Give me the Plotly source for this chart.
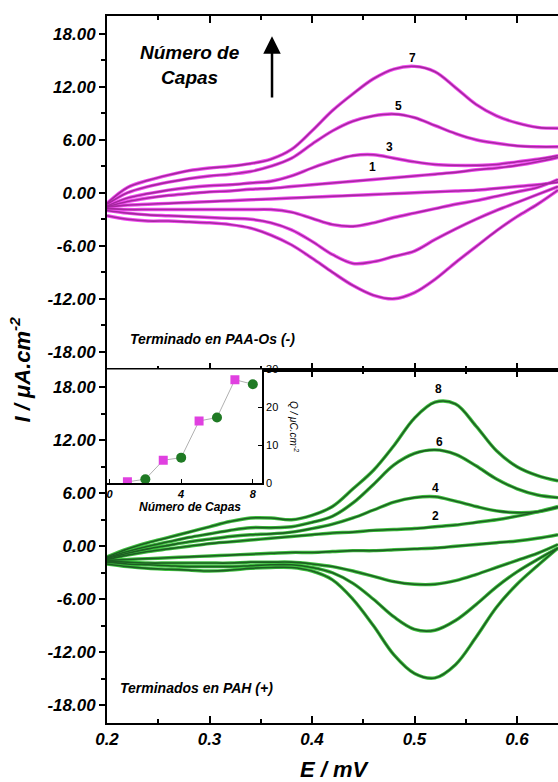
import plotly.graph_objects as go

# Potential grid (V) at which each voltammogram branch is sampled
E = [0.20, 0.22, 0.24, 0.26, 0.28, 0.30, 0.32, 0.34, 0.36, 0.38, 0.40, 0.42,
     0.44, 0.46, 0.48, 0.50, 0.52, 0.54, 0.56, 0.58, 0.60, 0.62, 0.64]

# Films terminated in PAA-Os (odd layer counts), current density in uA/cm2
paa_1_anodic = [-1.6, -1.0, -0.6, -0.3, -0.1, 0.1, 0.2, 0.4, 0.5, 0.7, 0.9, 1.1,
                1.3, 1.5, 1.7, 1.9, 2.1, 2.3, 2.6, 2.8, 3.1, 3.5, 4.0]
paa_1_cathodic = [-1.6, -1.4, -1.3, -1.2, -1.1, -1.0, -0.9, -0.8, -0.7, -0.6, -0.5, -0.4,
                  -0.3, -0.2, -0.1, 0.0, 0.1, 0.2, 0.3, 0.5, 0.7, 0.9, 1.2]
paa_3_anodic = [-1.5, -0.6, -0.1, 0.3, 0.6, 0.8, 0.9, 1.1, 1.3, 1.9, 2.8, 3.6,
                4.2, 4.3, 3.9, 3.5, 3.2, 3.1, 3.1, 3.2, 3.5, 3.8, 4.2]
paa_3_cathodic = [-1.8, -1.9, -1.9, -1.9, -1.9, -1.9, -1.9, -1.9, -1.9, -2.2, -2.9, -3.6,
                  -3.8, -3.4, -2.8, -2.3, -1.8, -1.3, -0.9, -0.4, 0.1, 0.6, 1.5]
paa_5_anodic = [-1.3, 0.0, 0.7, 1.2, 1.6, 1.9, 2.1, 2.4, 3.0, 3.9, 5.5, 7.0,
                8.1, 8.7, 8.9, 8.5, 7.6, 6.7, 6.0, 5.6, 5.3, 5.2, 5.2]
paa_5_cathodic = [-2.0, -2.3, -2.5, -2.6, -2.7, -2.8, -2.9, -3.0, -3.4, -4.2, -5.5, -7.0,
                  -8.0, -7.8, -7.2, -6.6, -5.3, -4.1, -3.0, -2.0, -1.1, -0.2, 0.7]
paa_7_anodic = [-1.2, 0.6, 1.4, 2.0, 2.5, 2.8, 3.0, 3.3, 3.8, 4.9, 7.0, 9.3,
                11.2, 12.9, 14.0, 14.3, 13.7, 11.9, 10.0, 8.7, 7.9, 7.4, 7.3]
paa_7_cathodic = [-2.6, -3.0, -3.2, -3.2, -3.3, -3.4, -3.6, -4.0, -4.8, -5.9, -7.4, -9.0,
                  -10.5, -11.6, -12.0, -11.3, -9.8, -7.9, -6.1, -4.3, -2.7, -1.3, 0.3]

# Films terminated in PAH (even layer counts)
pah_2_anodic = [-1.5, -1.0, -0.6, -0.3, 0.0, 0.3, 0.5, 0.7, 0.9, 1.1, 1.3, 1.5,
                1.6, 1.8, 1.9, 2.0, 2.2, 2.4, 2.7, 3.0, 3.4, 3.9, 4.5]
pah_2_cathodic = [-1.6, -1.5, -1.4, -1.3, -1.2, -1.1, -1.0, -0.9, -0.8, -0.7, -0.7, -0.6,
                  -0.5, -0.5, -0.4, -0.3, -0.2, 0.0, 0.2, 0.4, 0.6, 0.9, 1.3]
pah_4_anodic = [-1.4, -0.8, -0.3, 0.1, 0.5, 0.8, 1.1, 1.3, 1.4, 1.6, 2.0, 2.5,
                3.2, 4.1, 5.0, 5.5, 5.6, 5.1, 4.5, 4.0, 3.8, 3.9, 4.4]
pah_4_cathodic = [-1.7, -1.8, -1.9, -1.9, -1.9, -1.9, -1.9, -1.8, -1.8, -1.8, -2.0, -2.3,
                  -2.8, -3.4, -4.0, -4.3, -4.3, -3.9, -3.2, -2.4, -1.6, -0.8, 0.2]
pah_6_anodic = [-1.3, -0.6, 0.0, 0.5, 1.0, 1.4, 1.8, 2.1, 2.1, 2.2, 2.7, 3.4,
                4.9, 7.0, 9.2, 10.5, 10.9, 10.4, 9.1, 7.6, 6.5, 5.8, 5.5]
pah_6_cathodic = [-1.8, -2.0, -2.1, -2.2, -2.3, -2.3, -2.3, -2.2, -2.1, -2.1, -2.4, -3.0,
                  -4.2, -6.0, -8.0, -9.4, -9.5, -8.4, -6.6, -4.6, -2.9, -1.5, -0.2]
pah_8_anodic = [-1.2, -0.3, 0.4, 1.0, 1.6, 2.2, 2.8, 3.2, 3.2, 3.0, 3.5, 4.5,
                6.5, 8.6, 11.4, 14.5, 16.3, 16.1, 13.6, 10.8, 9.0, 8.0, 7.4]
pah_8_cathodic = [-2.0, -2.3, -2.5, -2.6, -2.7, -2.8, -2.7, -2.5, -2.4, -2.4, -2.8, -3.8,
                  -6.0, -9.0, -12.3, -14.4, -14.9, -13.4, -10.3, -6.9, -4.3, -2.2, -0.2]

# Inset: charge under the peaks versus number of layers
layers = [1, 2, 3, 4, 5, 6, 7, 8]
charge = [0.3, 1.0, 6.0, 6.7, 16.4, 17.3, 27.3, 26.1]

# Axis ticks
x_tickvals = [0.2, 0.3, 0.4, 0.5, 0.6]
x_ticktext = ["0.2", "0.3", "0.4", "0.5", "0.6"]
y_tickvals = [-18, -12, -6, 0, 6, 12, 18]
y_ticktext = ["-18.00", "-12.00", "-6.00", "0.00", "6.00", "12.00", "18.00"]

MAGENTA_HALO, MAGENTA_CORE = "#f04cf0", "#a5289f"
GREEN_HALO, GREEN_CORE = "#3fbf3f", "#1d5f22"
FONT = "Liberation Sans, Arial, sans-serif"

fig = go.Figure()


def add_cv(branches, halo, core, xa, ya):
    for y in branches:
        fig.add_trace(go.Scatter(x=E, y=y, mode="lines", xaxis=xa, yaxis=ya,
                                 line=dict(color=halo, width=3.4, shape="spline", smoothing=1.0),
                                 hoverinfo="skip", showlegend=False))
    for y in branches:
        fig.add_trace(go.Scatter(x=E, y=y, mode="lines", xaxis=xa, yaxis=ya,
                                 line=dict(color=core, width=1.6, shape="spline", smoothing=1.0),
                                 showlegend=False))


add_cv([paa_1_anodic, paa_1_cathodic, paa_3_anodic, paa_3_cathodic,
        paa_5_anodic, paa_5_cathodic, paa_7_anodic, paa_7_cathodic],
       MAGENTA_HALO, MAGENTA_CORE, "x", "y")
add_cv([pah_2_anodic, pah_2_cathodic, pah_4_anodic, pah_4_cathodic,
        pah_6_anodic, pah_6_cathodic, pah_8_anodic, pah_8_cathodic],
       GREEN_HALO, GREEN_CORE, "x2", "y2")

# Inset trace: connecting line, then odd (PAA-Os) and even (PAH) markers
fig.add_trace(go.Scatter(x=layers, y=charge, mode="lines", xaxis="x3", yaxis="y3",
                         line=dict(color="#b0b0b0", width=1), showlegend=False))
fig.add_trace(go.Scatter(x=layers[0::2], y=charge[0::2], mode="markers", xaxis="x3", yaxis="y3",
                         marker=dict(symbol="square", size=9, color="#e040e0"), showlegend=False))
fig.add_trace(go.Scatter(x=layers[1::2], y=charge[1::2], mode="markers", xaxis="x3", yaxis="y3",
                         marker=dict(symbol="circle", size=10, color="#1f7a24"), showlegend=False))

tickfont = dict(family=FONT, size=17, color="black", weight="bold", style="italic")

common_x = dict(range=[0.2, 0.64], showline=True, linecolor="black", linewidth=2,
                ticks="inside", ticklen=7, tickwidth=2, tickcolor="black",
                tickvals=x_tickvals, ticktext=x_ticktext, mirror="allticks",
                minor=dict(ticks="inside", dtick=0.05, tick0=0.2, ticklen=4, tickwidth=1.5,
                           tickcolor="black"),
                showgrid=False, zeroline=False, tickfont=tickfont)
common_y = dict(range=[-20, 20], showline=True, linecolor="black", linewidth=2,
                ticks="outside", ticklen=6, tickwidth=2, tickcolor="black",
                tickvals=y_tickvals, ticktext=y_ticktext,
                minor=dict(ticks="outside", dtick=3, tick0=0, ticklen=4, tickwidth=1.5,
                           tickcolor="black"),
                showgrid=False, zeroline=False, tickfont=tickfont)

fig.update_layout(
    width=558, height=782,
    margin=dict(l=107, r=0, t=16, b=59),
    paper_bgcolor="white", plot_bgcolor="white",
    xaxis=dict(common_x, anchor="y", domain=[0, 1], showticklabels=False),
    yaxis=dict(common_y, anchor="x", domain=[0.5, 1]),
    xaxis2=dict(common_x, anchor="y2", domain=[0, 1]),
    yaxis2=dict(common_y, anchor="x2", domain=[0, 0.5]),
    xaxis3=dict(anchor="y3", domain=[0, 0.344], range=[-0.14, 8.52],
                showline=True, linecolor="black", linewidth=1.5,
                ticks="inside", ticklen=4, tickcolor="black", tickvals=[0, 4, 8],
                showgrid=False, zeroline=False, ticklabelstandoff=0,
                tickfont=dict(family=FONT, size=11, color="black", weight="bold", style="italic")),
    yaxis3=dict(anchor="x3", domain=[0.3395, 0.5], range=[0, 30], side="right",
                showline=True, linecolor="black", linewidth=1.5,
                ticks="inside", ticklen=4, tickcolor="black", tickvals=[0, 10, 20, 30],
                showgrid=False, zeroline=False,
                tickfont=dict(family=FONT, size=11, color="black")),
    showlegend=False,
)

bi = dict(family=FONT, color="black", weight="bold", style="italic")
mid = dict(xanchor="center", yanchor="middle", showarrow=False)
ann = []
# Axis titles
ann.append(dict(mid, text="I / μA.cm<sup>-2</sup>", xref="paper", yref="paper", x=-0.193, y=0.5,
                textangle=-90, font=dict(bi, size=22)))
ann.append(dict(mid, text="E / mV", xref="paper", yref="paper", x=0.505, y=-0.066,
                font=dict(bi, size=22)))
# Top panel texts
ann.append(dict(mid, text="Número de<br>Capas", xref="x", yref="y", x=0.281, y=14.5,
                font=dict(bi, size=19)))
ann.append(dict(text="", xref="x", yref="y", x=0.361, y=17.7, axref="x", ayref="y",
                ax=0.361, ay=10.6, showarrow=True, arrowhead=2, arrowsize=1.4,
                arrowwidth=2.5, arrowcolor="black"))
ann.append(dict(text="Terminado en PAA-Os (-)", xref="x", yref="y", x=0.2205, y=-16.6,
                xanchor="left", yanchor="middle", showarrow=False, font=dict(bi, size=14)))
ann.append(dict(text="Terminados en PAH (+)", xref="x2", yref="y2", x=0.2107, y=-16.0,
                xanchor="left", yanchor="middle", showarrow=False, font=dict(bi, size=14)))
# Layer-number labels on the curves
num_font = dict(family=FONT, color="black", size=12, weight="bold")
for txt, xv, yv in [("7", 0.4985, 15.3), ("5", 0.484, 9.8), ("3", 0.476, 5.2), ("1", 0.4595, 2.9)]:
    ann.append(dict(mid, text=txt, xref="x", yref="y", x=xv, y=yv, font=num_font))
for txt, xv, yv in [("8", 0.523, 17.8), ("6", 0.524, 11.8), ("4", 0.520, 6.6), ("2", 0.520, 3.4)]:
    ann.append(dict(mid, text=txt, xref="x2", yref="y2", x=xv, y=yv, font=num_font))
# Inset titles
ann.append(dict(mid, text="Número de Capas", xref="paper", yref="paper", x=0.184, y=0.305,
                font=dict(bi, size=12)))
ann.append(dict(mid, text="Q / μC.cm<sup>-2</sup>", xref="paper", yref="paper", x=0.415, y=0.42,
                textangle=90,
                font=dict(family=FONT, color="black", size=10, style="italic")))
fig.update_layout(annotations=ann)

fig.write_html("out.html")
